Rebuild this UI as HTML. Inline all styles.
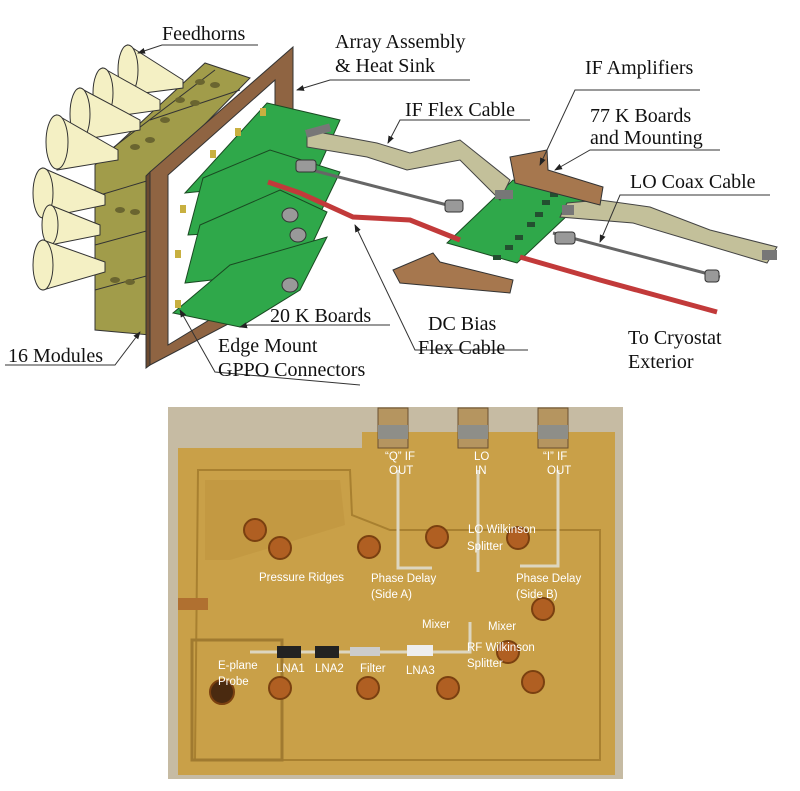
<!DOCTYPE html>
<html><head><meta charset="utf-8"><style>
body{margin:0;background:#fff;width:800px;height:791px;overflow:hidden}
svg{display:block}
.t{font-family:"Liberation Serif",serif;font-size:20px;fill:#111}
.w{font-family:"Liberation Sans",sans-serif;font-size:11.5px;fill:#fff}
</style></head><body>
<svg width="800" height="791" viewBox="0 0 800 791">
<defs><marker id="a" markerWidth="8" markerHeight="8" refX="7" refY="4" orient="auto"><path d="M0,1 L8,4 L0,7Z" fill="#222"/></marker></defs>
<!-- modules -->
<polygon points="95,165 205,63 250,78 150,180 150,335 95,330" fill="#a19c4a" stroke="#333"/>
<g stroke="#333" fill="none"><path d="M110,150 L215,70"/><path d="M100,195 L150,180"/><path d="M95,245 L150,230"/><path d="M95,290 L150,275"/><path d="M150,120 L240,90"/></g>
<g fill="#6a6530"><ellipse cx="200" cy="82" rx="5" ry="3"/><ellipse cx="215" cy="85" rx="5" ry="3"/><ellipse cx="180" cy="100" rx="5" ry="3"/><ellipse cx="195" cy="103" rx="5" ry="3"/><ellipse cx="165" cy="120" rx="5" ry="3"/><ellipse cx="150" cy="140" rx="5" ry="3"/><ellipse cx="135" cy="147" rx="5" ry="3"/><ellipse cx="120" cy="210" rx="5" ry="3"/><ellipse cx="135" cy="212" rx="5" ry="3"/><ellipse cx="115" cy="280" rx="5" ry="3"/><ellipse cx="130" cy="282" rx="5" ry="3"/></g>
<!-- feedhorns -->
<g fill="#f4f0c4" stroke="#333" stroke-width="1">
<polygon points="128,45 183,80 183,88 128,95"/><ellipse cx="128" cy="70" rx="10" ry="25"/>
<polygon points="103,68 160,100 160,110 103,118"/><ellipse cx="103" cy="93" rx="10" ry="25"/>
<polygon points="80,88 140,120 140,130 80,140"/><ellipse cx="80" cy="114" rx="10" ry="26"/>
<polygon points="57,115 118,150 118,160 57,170"/><ellipse cx="57" cy="142" rx="11" ry="27"/>
<polygon points="43,168 105,195 105,205 43,218"/><ellipse cx="43" cy="193" rx="10" ry="25"/>
<polygon points="50,205 100,225 100,235 50,245"/><ellipse cx="50" cy="225" rx="8" ry="20"/>
<polygon points="43,240 105,262 105,272 43,290"/><ellipse cx="43" cy="265" rx="10" ry="25"/>
</g>
<!-- frame -->
<path d="M150,172 L293,47 L293,290 L150,365 Z M168,175 L275,80 L275,280 L168,345 Z" fill="#8f6442" fill-rule="evenodd" stroke="#333"/>
<polygon points="146,176 150,172 150,365 146,368" fill="#6b4a30" stroke="#333"/>
<!-- green boards -->
<g fill="#2fa84a" stroke="#1a4a22" stroke-width="1">
<polygon points="267,103 340,120 313,180 185,193"/>
<polygon points="203,178 270,150 340,172 313,228 188,235"/>
<polygon points="200,225 280,190 327,212 300,270 185,283"/>
<polygon points="173,313 230,265 327,237 300,290 240,327"/>
<polygon points="447,243 513,180 587,197 517,263"/>
</g>
<g fill="#c8b040"><rect x="260" y="108" width="6" height="8"/><rect x="235" y="128" width="6" height="8"/><rect x="210" y="150" width="6" height="8"/><rect x="180" y="205" width="6" height="8"/><rect x="175" y="250" width="6" height="8"/><rect x="175" y="300" width="6" height="8"/></g>
<!-- flex cables -->
<polygon points="307,130 377,143 410,153 460,140 510,180 500,200 460,160 407,170 367,157 307,147" fill="#c3c09a" stroke="#444"/>
<polygon points="567,203 600,200 650,207 710,230 777,247 767,263 700,243 633,223 560,217" fill="#c3c09a" stroke="#444"/>
<g fill="#777"><rect x="305" y="130" width="25" height="8" transform="rotate(-15 305 130)"/><rect x="495" y="190" width="18" height="9"/><rect x="562" y="205" width="12" height="10"/><rect x="762" y="250" width="15" height="10"/></g>
<!-- coax -->
<line x1="300" y1="167" x2="455" y2="207" stroke="#666" stroke-width="3"/>
<line x1="553" y1="233" x2="720" y2="277" stroke="#666" stroke-width="3"/>
<g fill="#999" stroke="#333"><rect x="296" y="160" width="20" height="12" rx="3"/><rect x="445" y="200" width="18" height="12" rx="3"/><rect x="555" y="232" width="20" height="12" rx="3"/><rect x="705" y="270" width="14" height="12" rx="3"/><ellipse cx="290" cy="215" rx="8" ry="7"/><ellipse cx="298" cy="235" rx="8" ry="7"/><ellipse cx="290" cy="285" rx="8" ry="7"/></g>
<!-- red -->
<path d="M268,182 L300,193 L353,217 L410,220 L460,240" fill="none" stroke="#c23a3a" stroke-width="5"/>
<path d="M520,257 L600,280 L717,312" fill="none" stroke="#c23a3a" stroke-width="5"/>
<!-- pads on 77K board -->
<g fill="#235030"><rect x="550" y="192" width="8" height="5"/><rect x="542" y="200" width="8" height="5"/><rect x="535" y="212" width="8" height="5"/><rect x="527" y="222" width="8" height="5"/><rect x="515" y="235" width="8" height="5"/><rect x="505" y="245" width="8" height="5"/><rect x="493" y="255" width="8" height="5"/></g>
<!-- 77K brackets -->
<g fill="#a6774e" stroke="#333">
<polygon points="510,157 547,150 548,170 603,187 600,205 515,183"/>
<polygon points="393,270 433,253 440,262 513,280 510,293 400,283"/>
</g>
<!-- leader lines -->
<g stroke="#333" stroke-width="1" fill="none">
<path d="M258,45 L162,45 L138,53" marker-end="url(#a)"/><path d="M470,80 L330,80 L297,90" marker-end="url(#a)"/>
<path d="M700,90 L575,90 L540,165" marker-end="url(#a)"/><path d="M530,120 L400,120 L388,143" marker-end="url(#a)"/>
<path d="M720,150 L590,150 L555,170" marker-end="url(#a)"/><path d="M770,195 L620,195 L600,242" marker-end="url(#a)"/>
<path d="M390,325 L248,325 L240,327" marker-end="url(#a)"/><path d="M528,350 L415,350 L355,225" marker-end="url(#a)"/>
<path d="M5,365 L115,365 L140,332" marker-end="url(#a)"/><path d="M360,385 L215,372 L180,310" marker-end="url(#a)"/>
</g>
<text class="t" x="162" y="40">Feedhorns</text>
<text class="t" x="335" y="48">Array Assembly</text>
<text class="t" x="335" y="72">&amp; Heat Sink</text>
<text class="t" x="585" y="74">IF Amplifiers</text>
<text class="t" x="405" y="116">IF Flex Cable</text>
<text class="t" x="590" y="122">77 K Boards</text>
<text class="t" x="590" y="144">and Mounting</text>
<text class="t" x="630" y="188">LO Coax Cable</text>
<text class="t" x="270" y="322">20 K Boards</text>
<text class="t" x="428" y="330">DC Bias</text>
<text class="t" x="418" y="354">Flex Cable</text>
<text class="t" x="628" y="344">To Cryostat</text>
<text class="t" x="628" y="368">Exterior</text>
<text class="t" x="8" y="362">16 Modules</text>
<text class="t" x="218" y="352">Edge Mount</text>
<text class="t" x="218" y="376">GPPO Connectors</text>
<!-- photo -->
<rect x="168" y="407" width="455" height="372" fill="#c6bba3"/>
<path d="M178,448 L362,448 L362,432 L615,432 L615,775 L178,775 Z" fill="#c9a048"/>
<path d="M198,470 L350,470 L352,515 L390,530 L600,530 L600,760 L195,760 Z" fill="none" stroke="#a88030" stroke-width="2"/>
<path d="M205,480 L340,480 L345,525 L230,560 L205,560Z" fill="#c19540" opacity=".7"/>
<rect x="192" y="640" width="90" height="120" fill="none" stroke="#a07a30" stroke-width="3"/>
<rect x="178" y="598" width="30" height="12" fill="#b07030"/>
<g fill="#b59560" stroke="#6a5030"><rect x="378" y="408" width="30" height="40"/><rect x="458" y="408" width="30" height="40"/><rect x="538" y="408" width="30" height="40"/></g>
<g fill="#8e8e88"><rect x="378" y="425" width="30" height="14"/><rect x="458" y="425" width="30" height="14"/><rect x="538" y="425" width="30" height="14"/></g>
<g fill="#b05f22" stroke="#7a4010" stroke-width="2">
<circle cx="255" cy="530" r="11"/><circle cx="280" cy="548" r="11"/><circle cx="369" cy="547" r="11"/><circle cx="437" cy="537" r="11"/><circle cx="518" cy="538" r="11"/>
<circle cx="543" cy="609" r="11"/><circle cx="508" cy="652" r="11"/><circle cx="533" cy="682" r="11"/>
<circle cx="280" cy="688" r="11"/><circle cx="368" cy="688" r="11"/><circle cx="448" cy="688" r="11"/><circle cx="222" cy="692" r="12" fill="#4a2a10"/>
</g>
<g stroke="#ddd6c0" stroke-width="3" fill="none">
<path d="M398,470 L398,568 L432,568"/><path d="M478,470 L478,572"/><path d="M558,470 L558,566 L520,566"/>
<path d="M250,652 L470,652 L470,622"/>
</g>
<g fill="#222"><rect x="277" y="646" width="24" height="12"/><rect x="315" y="646" width="24" height="12"/></g>
<rect x="350" y="647" width="30" height="9" fill="#ccc"/><rect x="407" y="645" width="26" height="11" fill="#eee"/>
<text class="w" x="385" y="460">“Q” IF</text><text class="w" x="389" y="474">OUT</text>
<text class="w" x="474" y="460">LO</text><text class="w" x="475" y="474">IN</text>
<text class="w" x="543" y="460">“I” IF</text><text class="w" x="547" y="474">OUT</text>
<text class="w" x="468" y="533">LO Wilkinson</text><text class="w" x="467" y="550">Splitter</text>
<text class="w" x="259" y="581">Pressure Ridges</text>
<text class="w" x="371" y="582">Phase Delay</text><text class="w" x="371" y="598">(Side A)</text>
<text class="w" x="516" y="582">Phase Delay</text><text class="w" x="516" y="598">(Side B)</text>
<text class="w" x="422" y="628">Mixer</text><text class="w" x="488" y="630">Mixer</text>
<text class="w" x="467" y="651">RF Wilkinson</text><text class="w" x="467" y="667">Splitter</text>
<text class="w" x="218" y="669">E-plane</text><text class="w" x="218" y="685">Probe</text>
<text class="w" x="276" y="672">LNA1</text><text class="w" x="315" y="672">LNA2</text>
<text class="w" x="360" y="672">Filter</text><text class="w" x="406" y="674">LNA3</text>
</svg>
</body></html>
